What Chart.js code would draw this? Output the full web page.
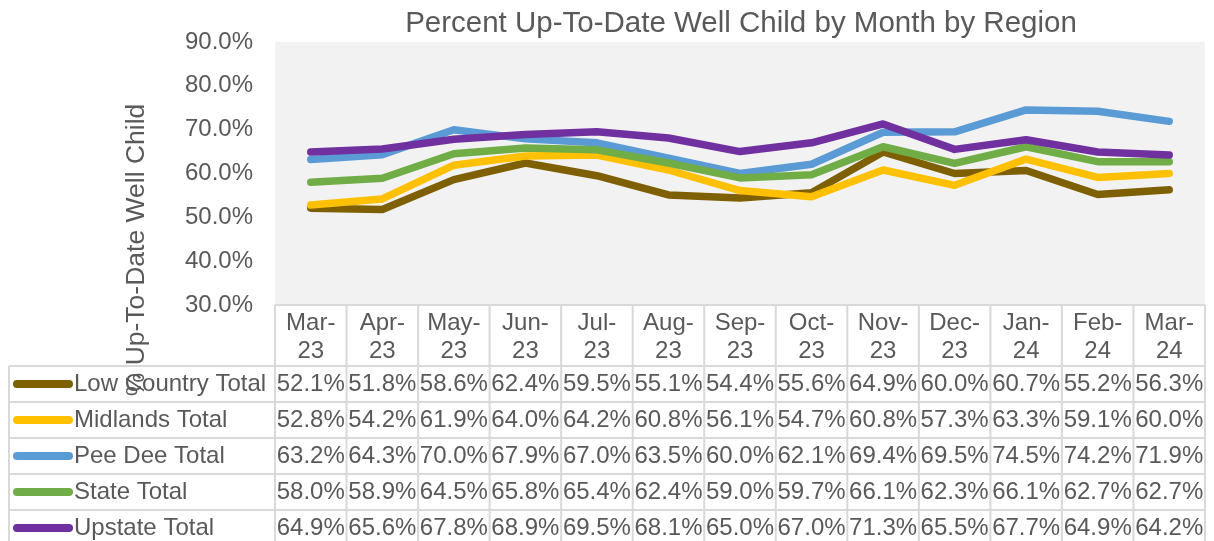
<!DOCTYPE html>
<html>
<head>
<meta charset="utf-8">
<script src="https://cdn.jsdelivr.net/npm/chart.js@4.4.0/dist/chart.umd.min.js"></script>
<style>
    html, body { margin: 0; padding: 0; background: #fff; }
    #wrap { width: 1214px; height: 541px; position: relative; }
</style>
</head>
<body>
<div id="wrap"><canvas id="chartContainer"></canvas></div>
<script>
const months = ["Mar-23", "Apr-23", "May-23", "Jun-23", "Jul-23", "Aug-23", "Sep-23",
    "Oct-23", "Nov-23", "Dec-23", "Jan-24", "Feb-24", "Mar-24"];
const regions = ["Low Country Total", "Midlands Total", "Pee Dee Total", "State Total", "Upstate Total"];
const lowCountry = [52.1, 51.8, 58.6, 62.4, 59.5, 55.1, 54.4, 55.6, 64.9, 60.0, 60.7, 55.2, 56.3];
const midlands = [52.8, 54.2, 61.9, 64.0, 64.2, 60.8, 56.1, 54.7, 60.8, 57.3, 63.3, 59.1, 60.0];
const peeDee = [63.2, 64.3, 70.0, 67.9, 67.0, 63.5, 60.0, 62.1, 69.4, 69.5, 74.5, 74.2, 71.9];
const stateTotal = [58.0, 58.9, 64.5, 65.8, 65.4, 62.4, 59.0, 59.7, 66.1, 62.3, 66.1, 62.7, 62.7];
const upstate = [64.9, 65.6, 67.8, 68.9, 69.5, 68.1, 65.0, 67.0, 71.3, 65.5, 67.7, 64.9, 64.2];
const seriesValues = [lowCountry, midlands, peeDee, stateTotal, upstate];
const seriesColors = ["#7f6000", "#ffc000", "#5b9bd5", "#70ad47", "#7030a0"];
const yMin = 30, yMax = 90, yStep = 10;

const chartTitle = "Percent Up-To-Date Well Child by Month by Region";
const yTitle = "% Up-To-Date Well Child";

const FONT = '"Liberation Sans", Arial, sans-serif';
const TEXT = "#595959";
const GRID = "#d9d9d9";
const pct = (v) => v.toFixed(1) + "%";

// gray plot background, title, rotated axis title and the data table under the plot
const tablePlugin = {
    id: "dataTable",
    beforeDatasetsDraw(chart) {
        const { ctx, chartArea: a } = chart;
        ctx.save();
        ctx.fillStyle = "#f2f2f2";
        ctx.fillRect(a.left, a.top, a.right - a.left, a.bottom - a.top);
        ctx.restore();
    },
    afterDraw(chart) {
        const { ctx, chartArea: a } = chart;
        const x = chart.scales.x;
        const colW = (a.right - a.left) / months.length;
        const headH = 61, rowH = 36;
        const tableLeft = 9;
        const rowsTop = a.bottom + headH;
        const bottom = rowsTop + rowH * regions.length;

        ctx.save();
        // grid lines
        ctx.strokeStyle = GRID;
        ctx.lineWidth = 2;
        ctx.beginPath();
        ctx.moveTo(a.left, a.bottom);
        ctx.lineTo(a.right, a.bottom);
        for (let i = 0; i <= months.length; i++) {
            const lx = a.left + i * colW;
            ctx.moveTo(lx, a.bottom);
            ctx.lineTo(lx, bottom);
        }
        for (let r = 0; r <= regions.length; r++) {
            const ly = rowsTop + r * rowH;
            ctx.moveTo(tableLeft, ly);
            ctx.lineTo(a.right, ly);
        }
        ctx.moveTo(tableLeft, rowsTop);
        ctx.lineTo(tableLeft, bottom);
        ctx.stroke();

        // category headers
        ctx.fillStyle = TEXT;
        ctx.font = "24px " + FONT;
        ctx.textAlign = "center";
        ctx.textBaseline = "middle";
        months.forEach((m, i) => {
            const cx = x.getPixelForValue(i);
            const [mon, yr] = m.split("-");
            ctx.fillText(mon + "-", cx, a.bottom + 18);
            ctx.fillText(yr, cx, a.bottom + 46);
        });

        // rows: legend key, name, values
        regions.forEach((name, r) => {
            const cy = rowsTop + r * rowH + rowH / 2;
            ctx.strokeStyle = seriesColors[r];
            ctx.lineWidth = 8;
            ctx.lineCap = "round";
            ctx.beginPath();
            ctx.moveTo(17, cy);
            ctx.lineTo(69, cy);
            ctx.stroke();
            ctx.textAlign = "left";
            ctx.fillText(name, 74, cy);
            ctx.textAlign = "center";
            seriesValues[r].forEach((v, i) => {
                ctx.fillText(pct(v), x.getPixelForValue(i), cy);
            });
        });

        // chart title
        ctx.font = "29.5px " + FONT;
        ctx.fillText(chartTitle, 741, 24);

        // y axis title
        ctx.translate(137, 250);
        ctx.rotate(-Math.PI / 2);
        ctx.font = "26.5px " + FONT;
        ctx.fillText(yTitle, 0, 0);
        ctx.restore();
    },
};

const ctx = document.getElementById("chartContainer");
const chart = new Chart(ctx, {
    type: "line",
    data: {
        labels: months,
        datasets: regions.map((name, r) => ({
            label: name,
            data: seriesValues[r],
            borderColor: seriesColors[r],
            backgroundColor: seriesColors[r],
            borderWidth: 7.5,
            borderCapStyle: "round",
            borderJoinStyle: "round",
            pointRadius: 0,
            tension: 0,
            order: regions.length - r,
        })),
    },
    options: {
        responsive: true,
        maintainAspectRatio: false,
        animation: false,
        layout: { padding: { top: 42, right: 9, bottom: 236, left: 0 } },
        plugins: {
            legend: { display: false },
            title: { display: false },
            tooltip: { enabled: false },
        },
        scales: {
            x: {
                display: false,
                offset: true,
            },
            y: {
                min: yMin,
                max: yMax,
                grid: { display: false },
                border: { display: false },
                afterFit: (scale) => { scale.width = 275; },
                ticks: {
                    stepSize: yStep,
                    padding: 14,
                    color: TEXT,
                    font: { family: FONT, size: 24 },
                    callback: (v) => pct(v),
                },
            },
        },
    },
    plugins: [tablePlugin],
});
</script>
</body>
</html>
